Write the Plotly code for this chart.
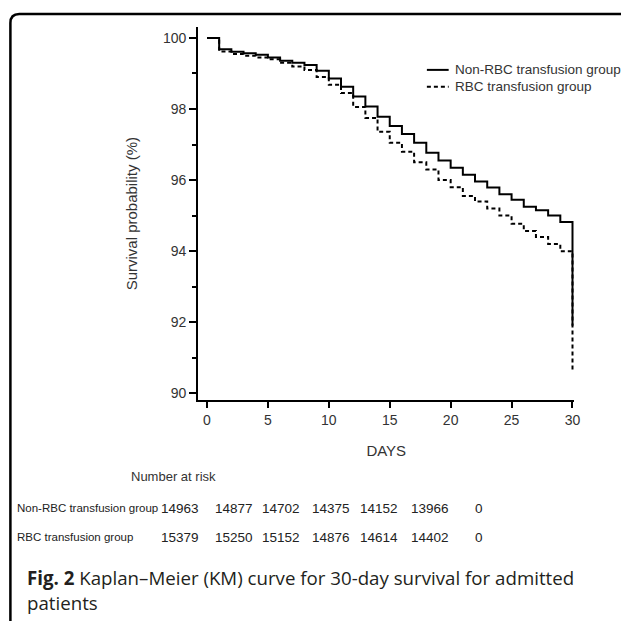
import plotly.graph_objects as go

W, H = 627, 622

days = list(range(0, 31))
non_rbc = [100, 99.68, 99.61, 99.57, 99.53, 99.45, 99.36, 99.30, 99.24, 99.08,
           98.86, 98.63, 98.35, 98.07, 97.78, 97.52, 97.30, 97.05, 96.77, 96.55,
           96.35, 96.15, 95.96, 95.79, 95.60, 95.45, 95.25, 95.15, 95.00, 94.82,
           91.90]
rbc = [100, 99.62, 99.55, 99.50, 99.45, 99.40, 99.30, 99.20, 99.10, 98.90,
       98.68, 98.45, 98.06, 97.75, 97.36, 97.05, 96.80, 96.50, 96.30, 96.00,
       95.80, 95.55, 95.40, 95.20, 95.00, 94.77, 94.57, 94.40, 94.20, 94.00,
       90.60]

series_names = ["Non-RBC transfusion group", "RBC transfusion group"]
risk_times = ["0", "5", "10", "15", "20", "25", "30"]
risk_non_rbc = [14963, 14877, 14702, 14375, 14152, 13966, 0]
risk_rbc = [15379, 15250, 15152, 14876, 14614, 14402, 0]

FONT = "Liberation Sans, Arial, sans-serif"
TXT = "#333333"
DASH = "4px,3px"


def px(x):
    return x / W


def py(y):
    return 1 - y / H


fig = go.Figure()
fig.add_trace(go.Scatter(x=days, y=non_rbc, mode="lines", line_shape="hv",
                         name=series_names[0], showlegend=False,
                         line=dict(color="black", width=2)))
fig.add_trace(go.Scatter(x=days, y=rbc, mode="lines", line_shape="hv",
                         name=series_names[1], showlegend=False,
                         line=dict(color="black", width=2, dash=DASH)))

fig.update_layout(
    width=W, height=H,
    margin=dict(l=0, r=0, t=0, b=0),
    paper_bgcolor="white", plot_bgcolor="white",
    font=dict(family=FONT, color=TXT, size=13),
    xaxis=dict(domain=[px(200), px(580)], range=[-0.73, 30.16],
               showline=True, linecolor="black", linewidth=2,
               ticks="outside", ticklen=6, tickwidth=2, tickcolor="black",
               tickmode="array", tickvals=[0, 5, 10, 15, 20, 25, 30],
               tickfont=dict(size=14, color=TXT),
               showgrid=False, zeroline=False,
               title=dict(text="DAYS", font=dict(size=15, color=TXT), standoff=18)),
    yaxis=dict(domain=[py(401), py(27)], range=[89.8, 100.31],
               showline=True, linecolor="black", linewidth=2,
               ticks="outside", ticklen=7, tickwidth=2, tickcolor="black",
               tickmode="array", tickvals=[90, 92, 94, 96, 98, 100],
               minor=dict(tickmode="array", tickvals=[91, 93, 95, 97, 99],
                          ticks="outside", ticklen=4, tickwidth=1.5,
                          tickcolor="black", showgrid=False),
               tickfont=dict(size=14, color=TXT),
               showgrid=False, zeroline=False,
               title=dict(text="Survival probability (%)",
                          font=dict(size=15, color=TXT), standoff=22)),
)

annos = []
shapes = []

# Legend (line samples + labels)
leg_y = [70, 87]
leg_dash = ["solid", DASH]
for name, yy, d in zip(series_names, leg_y, leg_dash):
    shapes.append(dict(type="line", xref="paper", yref="paper",
                       x0=px(431), x1=px(453), y0=py(yy), y1=py(yy),
                       line=dict(color="black", width=2, dash=d)))
    annos.append(dict(text=name, x=px(457), y=py(yy), xanchor="left",
                      yanchor="middle", font=dict(size=13.5, color=TXT)))

# Number-at-risk table
annos.append(dict(text="Number at risk", x=px(130), y=py(477), xanchor="left",
                  yanchor="middle", font=dict(size=13, color=TXT)))
row_y = [509, 538]
rows = [risk_non_rbc, risk_rbc]
num_right = [203, 257, 305, 355, 404, 455, 490]
for name, vals, yy in zip(series_names, rows, row_y):
    annos.append(dict(text=name, x=px(15), y=py(yy), xanchor="left",
                      yanchor="middle", font=dict(size=11.5, color="#222222")))
    for v, xr in zip(vals, num_right):
        annos.append(dict(text=str(v), x=px(xr), y=py(yy), xanchor="right",
                          yanchor="middle", font=dict(size=13.5, color="#222222")))

CAP = "Open Sans, sans-serif"
annos.append(dict(text="<b>Fig. 2</b> Kaplan–Meier (KM) curve for 30-day survival for admitted",
                  x=px(25), y=py(578), xanchor="left", yanchor="middle",
                  font=dict(size=18.7, color="#231f20", family=CAP)))
annos.append(dict(text="patients", x=px(25), y=py(603), xanchor="left",
                  yanchor="middle", font=dict(size=18.7, color="#231f20", family=CAP)))
for a in annos:
    a.update(xref="paper", yref="paper", showarrow=False)

# Rounded frame (top-left corner)
r = 9
path = (f"M {px(10.5)},{py(622)} L {px(10.5)},{py(14 + r)} "
        f"Q {px(10.5)},{py(14)} {px(10.5 + r)},{py(14)} L {px(627)},{py(14)}")
shapes.append(dict(type="path", path=path, xref="paper", yref="paper",
                   line=dict(color="black", width=2.5)))

fig.update_layout(annotations=annos, shapes=shapes)
fig.write_html("out.html")
